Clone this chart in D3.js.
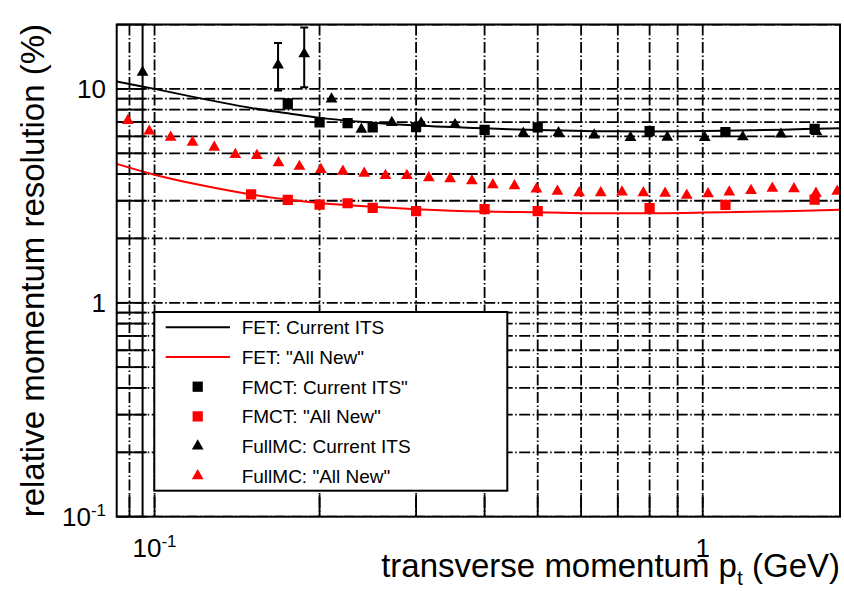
<!DOCTYPE html>
<html>
<head>
<meta charset="utf-8">
<script src="https://cdn.jsdelivr.net/npm/d3@7"></script>
<style>
  html, body { margin: 0; padding: 0; background: #fff; }
  svg { display: block; font-family: "Liberation Sans", Arial, Helvetica, sans-serif; }
</style>
</head>
<body>
<svg id="chart" width="844" height="591"></svg>
<script>
// ---------------- data ----------------
// axis ranges (pt in GeV, resolution in %)
const xDomain = [0.0853, 1.78];
const yDomain = [0.1, 20];

// grid / tick positions
const xGridValues = [0.09, 0.1, 0.2, 0.3, 0.4, 0.5, 0.6, 0.7, 0.8, 0.9, 1];
const yGridValues = [0.1, 0.2, 0.3, 0.4, 0.5, 0.6, 0.7, 0.8, 0.9,
                     1, 2, 3, 4, 5, 6, 7, 8, 9, 10, 20];

// tick labels (mantissa + exponent)
const xLabelValues = [0.1, 1];
const xLabelBase   = ["10", "1"];
const xLabelSup    = ["-1", ""];
const yLabelValues = [0.1, 1, 10];
const yLabelBase   = ["10", "1", "10"];
const yLabelSup    = ["-1", "", ""];

// FET analytic estimate, sampled
const fetX       = [0.0853, 0.1, 0.12, 0.15, 0.175, 0.2, 0.25, 0.3, 0.4, 0.5, 0.7, 1.0, 1.4, 1.78];
const fetCurrent = [10.82, 10.0, 9.08, 8.15, 7.69, 7.32, 6.95, 6.74, 6.54, 6.43, 6.33, 6.35, 6.45, 6.55];
const fetNew     = [4.46, 3.97, 3.57, 3.21, 3.04, 2.93, 2.81, 2.74, 2.67, 2.65, 2.62, 2.64, 2.68, 2.72];

// FMCT (fast MC) points
const fmctCurX  = [0.175, 0.2, 0.225, 0.25, 0.3, 0.4, 0.5, 0.8, 1.1, 1.6];
const fmctCurY  = [8.51, 6.98, 6.91, 6.61, 6.63, 6.44, 6.60, 6.35, 6.28, 6.50];
const fmctCurLo = [8.10, null, null, null, null, null, null, null, null, null];
const fmctCurHi = [8.95, null, null, null, null, null, null, null, null, null];
const fmctNewX  = [0.15, 0.175, 0.2, 0.225, 0.25, 0.3, 0.4, 0.5, 0.8, 1.1, 1.6];
const fmctNewY  = [3.21, 3.03, 2.88, 2.92, 2.78, 2.68, 2.74, 2.68, 2.77, 2.87, 3.04];

// Full MC points
const fullCurX  = [0.0951, 0.168, 0.1875, 0.2103, 0.2384, 0.2709, 0.3064, 0.3533, 0.4706,
                   0.5456, 0.6338, 0.7383, 0.8618, 1.0085, 1.1831, 1.3889, 1.612];
const fullCurY  = [11.96, 12.92, 14.57, 8.96, 6.47, 6.96, 6.92, 6.80, 6.20,
                   6.24, 6.08, 5.92, 5.94, 5.92, 5.96, 6.14, 6.32];
const fullCurLo = [0.01, 9.82, 10.17, null, null, null, null, null, null,
                   null, null, null, null, null, null, null, null];
const fullCurHi = [100, 16.37, 19.34, null, null, null, null, null, null,
                   null, null, null, null, null, null, null, null];
const fullNewX  = [0.0894, 0.0978, 0.1070, 0.1173, 0.1285, 0.1404, 0.1537, 0.1683, 0.1838,
                   0.2011, 0.2206, 0.2413, 0.2638, 0.2886, 0.3165, 0.3461, 0.3792, 0.4141,
                   0.4535, 0.4973, 0.5432, 0.5951, 0.6516, 0.7125, 0.7794, 0.8538, 0.9350,
                   1.0226, 1.1180, 1.2249, 1.3397, 1.4671, 1.6088, 1.7594];
const fullNewY  = [7.11, 6.34, 5.94, 5.63, 5.33, 4.93, 4.88, 4.51, 4.34,
                   4.20, 4.12, 4.03, 3.93, 3.93, 3.84, 3.80, 3.72, 3.56,
                   3.52, 3.40, 3.32, 3.27, 3.27, 3.29, 3.27, 3.25, 3.18,
                   3.23, 3.29, 3.35, 3.43, 3.41, 3.25, 3.32];

// legend entries
const legendLabels = ['FET: Current ITS', 'FET: "All New"', 'FMCT: Current ITS"',
                      'FMCT: "All New"', 'FullMC: Current ITS', 'FullMC: "All New"'];
const legendKinds  = ['line', 'line', 'square', 'square', 'triangle', 'triangle'];
const legendColors = ['#000', '#ff0000', '#000', '#ff0000', '#000', '#ff0000'];

// ---------------- drawing ----------------
const svg = d3.select('#chart');
const frame = { left: 116.7, right: 840, top: 24.5, bottom: 516.7 };

const x = d3.scaleLog().domain(xDomain).range([frame.left, frame.right]);
const y = d3.scaleLog().domain(yDomain).range([frame.bottom, frame.top]);

svg.append('defs').append('clipPath').attr('id', 'plotClip')
  .append('rect')
  .attr('x', frame.left).attr('y', frame.top)
  .attr('width', frame.right - frame.left).attr('height', frame.bottom - frame.top);

const gridDash = '11,2.5,1.5,2.5';
const grid = svg.append('g').attr('clip-path', 'url(#plotClip)')
  .attr('stroke', '#000').attr('stroke-width', 1.8).attr('stroke-dasharray', gridDash);

grid.selectAll('line.gx').data(xGridValues).join('line').attr('class', 'gx')
  .attr('x1', d => x(d)).attr('x2', d => x(d))
  .attr('y1', frame.top).attr('y2', frame.bottom);
grid.selectAll('line.gy').data(yGridValues).join('line').attr('class', 'gy')
  .attr('y1', d => y(d)).attr('y2', d => y(d))
  .attr('x1', frame.left).attr('x2', frame.right);

// tick marks along bottom and left axes
const ticks = svg.append('g').attr('stroke', '#000').attr('stroke-width', 1.8);
ticks.selectAll('line.tx').data(xGridValues).join('line').attr('class', 'tx')
  .attr('x1', d => x(d)).attr('x2', d => x(d))
  .attr('y1', frame.bottom).attr('y2', frame.bottom - 22);
ticks.selectAll('line.ty').data(yGridValues).join('line').attr('class', 'ty')
  .attr('y1', d => y(d)).attr('y2', d => y(d))
  .attr('x1', frame.left).attr('x2', frame.left + 30);

const plot = svg.append('g').attr('clip-path', 'url(#plotClip)');

// FET curves
const curve = d3.line()
  .x(d => x(d[0])).y(d => y(d[1]))
  .curve(d3.curveCatmullRom.alpha(0.5));
plot.append('path').datum(d3.zip(fetX, fetNew))
  .attr('d', curve).attr('fill', 'none').attr('stroke', '#ff0000').attr('stroke-width', 2);
plot.append('path').datum(d3.zip(fetX, fetCurrent))
  .attr('d', curve).attr('fill', 'none').attr('stroke', '#000').attr('stroke-width', 2);

// error bars
function errorBars(xs, lo, hi, color) {
  const rows = xs.map((v, i) => ({ x: v, lo: lo[i], hi: hi[i] })).filter(r => r.lo != null);
  const g = plot.append('g').attr('stroke', color).attr('stroke-width', 2);
  g.selectAll('line.bar').data(rows).join('line').attr('class', 'bar')
    .attr('x1', r => x(r.x)).attr('x2', r => x(r.x))
    .attr('y1', r => y(r.lo)).attr('y2', r => y(r.hi));
  g.selectAll('line.capLo').data(rows).join('line').attr('class', 'capLo')
    .attr('x1', r => x(r.x) - 4).attr('x2', r => x(r.x) + 4)
    .attr('y1', r => y(r.lo)).attr('y2', r => y(r.lo));
  g.selectAll('line.capHi').data(rows).join('line').attr('class', 'capHi')
    .attr('x1', r => x(r.x) - 4).attr('x2', r => x(r.x) + 4)
    .attr('y1', r => y(r.hi)).attr('y2', r => y(r.hi));
}
errorBars(fullCurX, fullCurLo, fullCurHi, '#000');
errorBars(fmctCurX, fmctCurLo, fmctCurHi, '#000');

// markers
const squarePath = d3.symbol(d3.symbolSquare, 105)();
const trianglePath = d3.symbol(d3.symbolTriangle, 60)();
function markers(xs, ys, path, color) {
  plot.append('g').selectAll('path').data(d3.zip(xs, ys)).join('path')
    .attr('d', path)
    .attr('transform', d => `translate(${x(d[0])},${y(d[1])})`)
    .attr('fill', color);
}
markers(fullNewX, fullNewY, trianglePath, '#ff0000');
markers(fmctNewX, fmctNewY, squarePath, '#ff0000');
markers(fullCurX, fullCurY, trianglePath, '#000');
markers(fmctCurX, fmctCurY, squarePath, '#000');

// frame
svg.append('rect')
  .attr('x', frame.left).attr('y', frame.top)
  .attr('width', frame.right - frame.left).attr('height', frame.bottom - frame.top)
  .attr('fill', 'none').attr('stroke', '#000').attr('stroke-width', 2);

// axis labels
const yLab = svg.append('g').attr('font-size', 26).attr('fill', '#000');
yLabelValues.forEach((v, i) => {
  const t = yLab.append('text').attr('x', 106).attr('y', y(v) + 9.3).attr('text-anchor', 'end');
  t.append('tspan').text(yLabelBase[i]);
  if (yLabelSup[i]) t.append('tspan').attr('font-size', 17).attr('dy', -10).text(yLabelSup[i]);
});
const xLab = svg.append('g').attr('font-size', 26).attr('fill', '#000');
xLabelValues.forEach((v, i) => {
  const t = xLab.append('text').attr('x', x(v)).attr('y', 557).attr('text-anchor', 'middle');
  t.append('tspan').text(xLabelBase[i]);
  if (xLabelSup[i]) t.append('tspan').attr('font-size', 17).attr('dy', -10).text(xLabelSup[i]);
});

// axis titles
svg.append('text')
  .attr('transform', 'translate(44,24) rotate(-90)')
  .attr('text-anchor', 'end').attr('font-size', 33)
  .text('relative momentum resolution (%)');

const xt = svg.append('text').attr('x', 840).attr('y', 577)
  .attr('text-anchor', 'end').attr('font-size', 33);
xt.append('tspan').text('transverse momentum p');
xt.append('tspan').attr('font-size', 21).attr('dy', 8).text('t');
xt.append('tspan').attr('dy', -8).text(' (GeV)');

// legend
const leg = { left: 154.3, top: 312, right: 507.3, bottom: 490.7, row0: 327.3, step: 29.7 };
const lg = svg.append('g');
lg.append('rect')
  .attr('x', leg.left).attr('y', leg.top)
  .attr('width', leg.right - leg.left).attr('height', leg.bottom - leg.top)
  .attr('fill', '#fff').attr('stroke', '#000').attr('stroke-width', 2);
legendLabels.forEach((label, i) => {
  const cy = leg.row0 + i * leg.step;
  if (legendKinds[i] === 'line') {
    lg.append('line').attr('x1', 165.7).attr('x2', 230).attr('y1', cy).attr('y2', cy)
      .attr('stroke', legendColors[i]).attr('stroke-width', 2);
  } else {
    lg.append('path')
      .attr('d', legendKinds[i] === 'square' ? squarePath : trianglePath)
      .attr('transform', `translate(197.7,${cy})`)
      .attr('fill', legendColors[i]);
  }
  lg.append('text').attr('x', 241.7).attr('y', cy + 6.8)
    .attr('font-size', 19).attr('fill', '#000').text(label);
});
</script>
</body>
</html>
